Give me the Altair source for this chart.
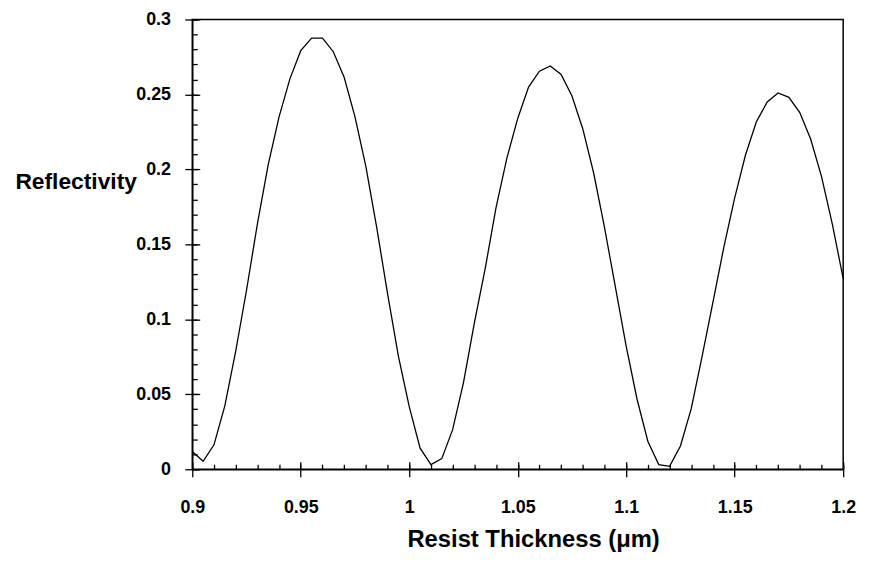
import altair as alt
import pandas as pd

thickness = [0.900, 0.905, 0.910, 0.915, 0.920, 0.925, 0.930, 0.935, 0.940, 0.945,
             0.950, 0.955, 0.960, 0.965, 0.970, 0.975, 0.980, 0.985, 0.990, 0.995,
             1.000, 1.005, 1.010, 1.015, 1.020, 1.025, 1.030, 1.035, 1.040, 1.045,
             1.050, 1.055, 1.060, 1.065, 1.070, 1.075, 1.080, 1.085, 1.090, 1.095,
             1.100, 1.105, 1.110, 1.115, 1.120, 1.125, 1.130, 1.135, 1.140, 1.145,
             1.150, 1.155, 1.160, 1.165, 1.170, 1.175, 1.180, 1.185, 1.190, 1.195,
             1.200]
reflectivity = [0.0119, 0.0053, 0.0163, 0.0423, 0.0787, 0.1194, 0.1635, 0.2032, 0.2351, 0.2604,
                0.2792, 0.2876, 0.2876, 0.2785, 0.2615, 0.2351, 0.2021, 0.1613, 0.1172, 0.0754,
                0.0418, 0.0141, 0.0031, 0.0071, 0.0264, 0.0578, 0.0974, 0.1338, 0.1745, 0.2075,
                0.2340, 0.2549, 0.2655, 0.2690, 0.2633, 0.2490, 0.2270, 0.1976, 0.1613, 0.1216,
                0.0820, 0.0467, 0.0185, 0.0031, 0.0020, 0.0155, 0.0406, 0.0754, 0.1116, 0.1481,
                0.1810, 0.2098, 0.2318, 0.2450, 0.2510, 0.2481, 0.2379, 0.2203, 0.1954, 0.1635,
                0.1272]

x_major = [0.9, 0.95, 1.0, 1.05, 1.1, 1.15, 1.2]
y_major = [0, 0.05, 0.1, 0.15, 0.2, 0.25, 0.3]
x_minor = [round(0.9 + 0.01 * i, 2) for i in range(31)]
y_minor = [round(0.01 * i, 2) for i in range(31)]

df = pd.DataFrame({"t": thickness, "r": reflectivity})

FONT = "Liberation Sans"
xs = alt.Scale(domain=[0.9, 1.2], nice=False, zero=False)
ys = alt.Scale(domain=[0, 0.3], nice=False, zero=False)

base = alt.Chart(df)

main = base.mark_line(color="black", strokeWidth=1.3).encode(
    x=alt.X("t:Q", scale=xs, axis=alt.Axis(
        values=x_major, format="~g", ticks=False, grid=False, domain=True,
        domainColor="black", domainWidth=1.5, labelFont=FONT, labelFontSize=18,
        labelFontWeight="bold", labelColor="black", labelPadding=30,
        labelFlush=False, labelOverlap=False,
        title="Resist Thickness (μm)", titleFont=FONT, titleFontSize=24,
        titleFontWeight="bold", titleColor="black", titleX=344, titleY=71,
        titleAnchor="middle", titleAlign="center", titleBaseline="middle", orient="bottom")),
    y=alt.Y("r:Q", scale=ys, axis=alt.Axis(
        values=y_major, format="~g", ticks=False, grid=False, domain=True,
        domainColor="black", domainWidth=1.5, labelFont=FONT, labelFontSize=18,
        labelFontWeight="bold", labelColor="black", labelPadding=22,
        labelFlush=False, labelOverlap=False,
        title="Reflectivity", titleFont=FONT, titleFontSize=23,
        titleFontWeight="bold", titleColor="black", titleAngle=0,
        titleX=-179, titleY=164, titleAlign="left", titleBaseline="middle", orient="left")),
)

def tick_layer(xv, yv, offset, size):
    return base.mark_line(strokeOpacity=0).encode(
        x=alt.X("t:Q", scale=xs, axis=alt.Axis(
            values=xv, orient="bottom", labels=False, domain=False, grid=False,
            ticks=True, tickSize=size, tickColor="black", tickWidth=1.3,
            offset=offset, title=None)),
        y=alt.Y("r:Q", scale=ys, axis=alt.Axis(
            values=yv, orient="left", labels=False, domain=False, grid=False,
            ticks=True, tickSize=size, tickColor="black", tickWidth=1.3,
            offset=offset, title=None)),
    )

major = tick_layer(x_major, y_major, -7.5, 15)
minor = tick_layer(x_minor, y_minor, -5, 5)

chart = alt.layer(main, major, minor).resolve_axis(
    x="independent", y="independent"
).properties(
    width=657, height=454,
    autosize=alt.AutoSizeParams(type="none"),
    padding={"left": 186, "top": 9, "right": 19, "bottom": 90},
).configure_view(
    stroke="black", strokeWidth=1.5
)

chart.save("out.html", embed_options={"renderer": "svg", "actions": False})
